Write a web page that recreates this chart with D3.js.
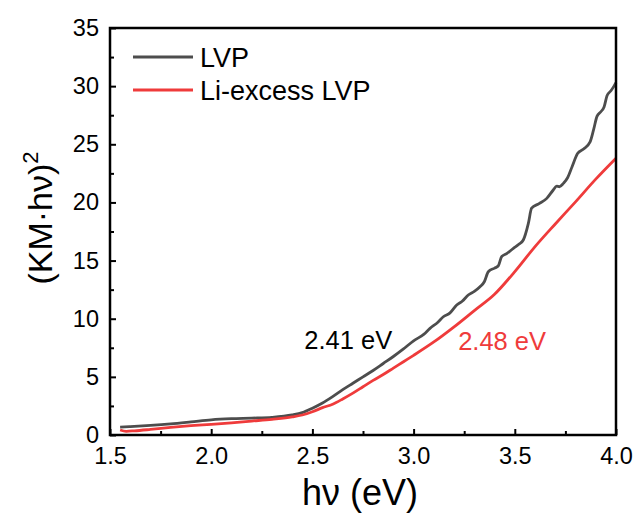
<!DOCTYPE html>
<html>
<head>
<meta charset="utf-8">
<script src="https://cdn.jsdelivr.net/npm/d3@7"></script>
<style>
  html, body { margin: 0; padding: 0; background: #fff; }
  svg { display: block; font-family: "Liberation Sans", Arial, sans-serif; }
</style>
</head>
<body>
<svg id="chart" width="636" height="513"></svg>
<script>
// ---- data ----
const lvpX = [1.55,1.60,1.70,1.80,1.90,2.00,2.10,2.20,2.30,2.40,2.45,2.50,2.55,2.60,2.65,2.70,2.75,2.80,2.85,2.90,2.95,3.00,3.05,3.081,3.12,3.147,3.18,3.213,3.24,3.27,3.30,3.328,3.35,3.369,3.40,3.418,3.435,3.46,3.493,3.52,3.542,3.567,3.583,3.62,3.658,3.69,3.707,3.72,3.74,3.76,3.783,3.81,3.84,3.872,3.89,3.906,3.925,3.941,3.956,3.975,3.99,4.00];
const lvpY = [0.68,0.72,0.82,0.95,1.12,1.30,1.40,1.45,1.52,1.72,1.92,2.30,2.75,3.30,3.90,4.45,5.00,5.55,6.15,6.75,7.40,8.10,8.65,9.17,9.70,10.17,10.50,11.18,11.50,12.04,12.35,12.75,13.20,14.04,14.35,14.53,15.33,15.60,16.05,16.40,16.77,18.20,19.50,19.90,20.35,21.07,21.40,21.35,21.64,22.10,23.07,24.20,24.60,25.20,26.30,27.40,27.80,28.20,29.20,29.60,30.00,30.30];
const liX = [1.55,1.58,1.62,1.70,1.80,1.90,2.00,2.10,2.20,2.30,2.40,2.45,2.50,2.55,2.60,2.65,2.70,2.75,2.80,2.85,2.90,2.95,3.00,3.10,3.20,3.30,3.40,3.50,3.60,3.70,3.80,3.90,4.00];
const liY = [0.43,0.32,0.36,0.48,0.65,0.80,0.92,1.05,1.20,1.35,1.55,1.72,2.00,2.35,2.65,3.10,3.60,4.15,4.70,5.20,5.75,6.30,6.85,8.00,9.30,10.70,12.10,14.05,16.20,18.15,20.05,22.00,23.80];
const seriesNames = ["LVP", "Li-excess LVP"];
const seriesColors = ["#4d4d4d", "#ef3b3b"];
const xTicks = [1.5, 2.0, 2.5, 3.0, 3.5, 4.0];
const xMinor = [1.75, 2.25, 2.75, 3.25, 3.75];
const yTicks = [0, 5, 10, 15, 20, 25, 30, 35];
const yMinor = [2.5, 7.5, 12.5, 17.5, 22.5, 27.5, 32.5];
const annotations = [
  {text: "2.41 eV", x: 2.46, y: 7.4, color: "#000"},
  {text: "2.48 eV", x: 3.22, y: 7.3, color: "#ef3b3b"}
];

// ---- layout ----
const svg = d3.select("#chart");
const m = {left: 110, top: 28, right: 20, bottom: 78};
const W = 636 - m.left - m.right, H = 513 - m.top - m.bottom;
const x = d3.scaleLinear().domain([1.5, 4.0]).range([0, W]);
const y = d3.scaleLinear().domain([0, 35]).range([H, 0]);
const g = svg.append("g").attr("transform", `translate(${m.left},${m.top})`);

// curves
const line = d3.line().x(d => x(d[0])).y(d => y(d[1])).curve(d3.curveMonotoneX);
const data = [d3.zip(lvpX, lvpY), d3.zip(liX, liY)];
g.selectAll("path.curve").data(data).join("path")
  .attr("class", "curve")
  .attr("d", line)
  .attr("fill", "none")
  .attr("stroke", (d, i) => seriesColors[i])
  .attr("stroke-width", 2.8)
  .attr("stroke-linejoin", "round");

// axes
const fmt = d3.format(".1f");
const xAxis = g.append("g").attr("transform", `translate(0,${H})`)
  .call(d3.axisBottom(x).tickValues(xTicks).tickFormat(fmt).tickSize(-6).tickPadding(12));
const xAxisMinor = g.append("g").attr("transform", `translate(0,${H})`)
  .call(d3.axisBottom(x).tickValues(xMinor).tickFormat("").tickSize(-4));
const yAxis = g.append("g")
  .call(d3.axisLeft(y).tickValues(yTicks).tickFormat(d3.format("d")).tickSize(-6).tickPadding(11));
const yAxisMinor = g.append("g")
  .call(d3.axisLeft(y).tickValues(yMinor).tickFormat("").tickSize(-4));
[xAxis, xAxisMinor, yAxis, yAxisMinor].forEach(a => {
  a.select(".domain").remove();
  a.selectAll("line").attr("stroke", "#000").attr("stroke-width", 2);
  a.selectAll("text").attr("font-size", 23.5).attr("fill", "#000")
    .attr("font-family", "'Liberation Sans', Arial, sans-serif");
});
xAxis.selectAll("text").attr("dy", "0.71em");

// frame
g.append("rect").attr("x", 0).attr("y", 0).attr("width", W).attr("height", H)
  .attr("fill", "none").attr("stroke", "#000").attr("stroke-width", 2.5);

// legend
const leg = g.append("g").attr("transform", "translate(23,29)");
seriesNames.forEach((name, i) => {
  const row = leg.append("g").attr("transform", `translate(0,${i * 33})`);
  row.append("line").attr("x1", 0).attr("x2", 60).attr("y1", 0).attr("y2", 0)
    .attr("stroke", seriesColors[i]).attr("stroke-width", 2.8);
  row.append("text").attr("x", 67).attr("y", 0).attr("dy", "0.36em")
    .attr("font-size", 27).attr("fill", "#000").text(name);
});

// annotations
g.selectAll("text.ann").data(annotations).join("text")
  .attr("class", "ann")
  .attr("x", d => x(d.x)).attr("y", d => y(d.y))
  .attr("font-size", 25.5).attr("fill", d => d.color).text(d => d.text);

// axis titles
svg.append("text").attr("x", 360).attr("y", 505)
  .attr("text-anchor", "middle").attr("font-size", 36).attr("fill", "#000")
  .text("hν (eV)");
const yt = svg.append("text")
  .attr("transform", `translate(52,218) rotate(-90)`)
  .attr("text-anchor", "middle").attr("font-size", 34).attr("fill", "#000");
yt.append("tspan").text("(KM·hν)");
yt.append("tspan").attr("dy", -14).attr("font-size", 22).text("2");
</script>
</body>
</html>
